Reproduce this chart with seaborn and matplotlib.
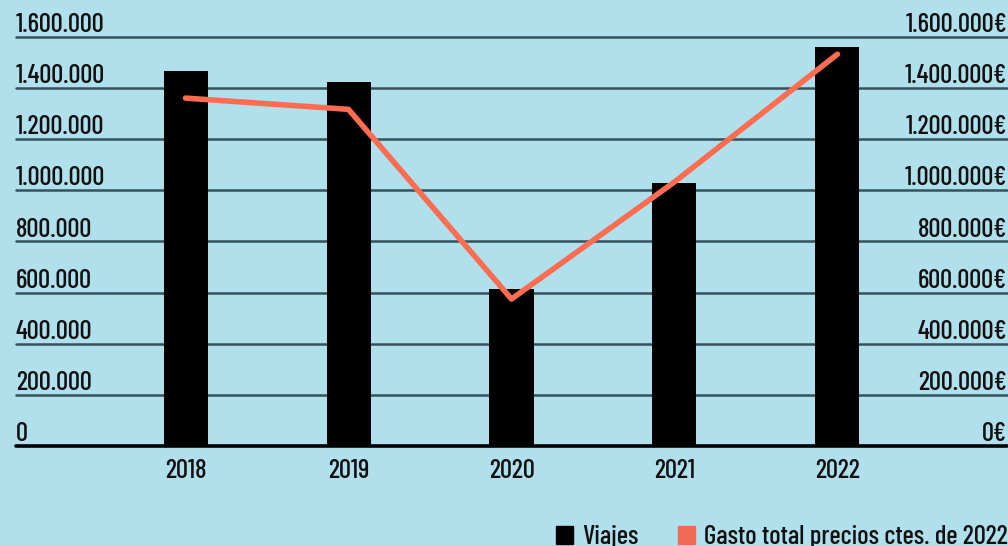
import numpy as np
import pandas as pd
import matplotlib
matplotlib.use("Agg")
import matplotlib.pyplot as plt
import seaborn as sns
from matplotlib.patches import Patch

sns.set_style("white")
plt.rcParams['font.family'] = ['Barlow Condensed', 'DejaVu Sans']
plt.rcParams['font.weight'] = 500

# data
years = ["2018", "2019", "2020", "2021", "2022"]
viajes = [1467000, 1424000, 614000, 1029000, 1561000]
gasto = [1361000, 1317000, 575000, 1033000, 1533000]
yticks = [0, 200000, 400000, 600000, 800000, 1000000, 1200000, 1400000, 1600000]

bg = "#b0e0ec"
coral = "#ff6c50"
txt = "#111111"
fs = 19.3

df = pd.DataFrame({"year": years, "viajes": viajes, "gasto": gasto})

fig = plt.figure(figsize=(10.08, 5.46), dpi=100, facecolor=bg)
ax = fig.add_axes([16/1008, 100/546, 991/1008, 409/546])
ax.set_facecolor(bg)

sns.barplot(data=df, x="year", y="viajes", color="black", width=0.27,
            saturation=1, linewidth=0, ax=ax, zorder=3)

ax2 = ax.twinx()
sns.lineplot(x=np.arange(len(years)), y=df["gasto"], color=coral, lw=4,
             ax=ax2, zorder=4)
ax2.set_ylim(0, 1600000)
ax2.set_yticks([])
ax2.set_ylabel("")
for s in ax2.spines.values():
    s.set_visible(False)

ax.set_ylim(0, 1600000)
ax.set_xlim(-1.04, len(years) - 1 + 1.04)
ax.set_yticks(yticks)
ax.set_yticklabels([])
ax.tick_params(axis="y", length=0)
ax.tick_params(axis="x", length=0, labelsize=fs, pad=9.5, labelcolor=txt)
ax.set_xlabel("")
ax.set_ylabel("")
for s in ax.spines.values():
    s.set_visible(False)

for v in yticks[1:]:
    ax.axhline(v, color="#36525b", lw=1.8, zorder=1, clip_on=False)
ax.axhline(0, color="black", lw=2.6, zorder=5, clip_on=False)

trans = ax.get_yaxis_transform()
for v in yticks:
    lab = f"{v:,}".replace(",", ".")
    ax.text(0, v + 19500, lab, transform=trans, ha="left", va="baseline",
            fontsize=fs, color=txt)
    ax.text(1, v + 19500, lab + "€", transform=trans, ha="right", va="baseline",
            fontsize=fs, color=txt)

handles = [Patch(color="black", label="Viajes"),
           Patch(color="#ee6b55", label="Gasto total precios ctes. de 2022")]
fig.legend(handles=handles, loc="lower right", bbox_to_anchor=(1.024, -0.05),
           ncol=2, frameon=False, fontsize=fs, handlelength=0.63,
           handleheight=0.63, handletextpad=0.34, columnspacing=1.5,
           labelcolor=txt)

fig.savefig("out.png", dpi=100, facecolor=bg)
